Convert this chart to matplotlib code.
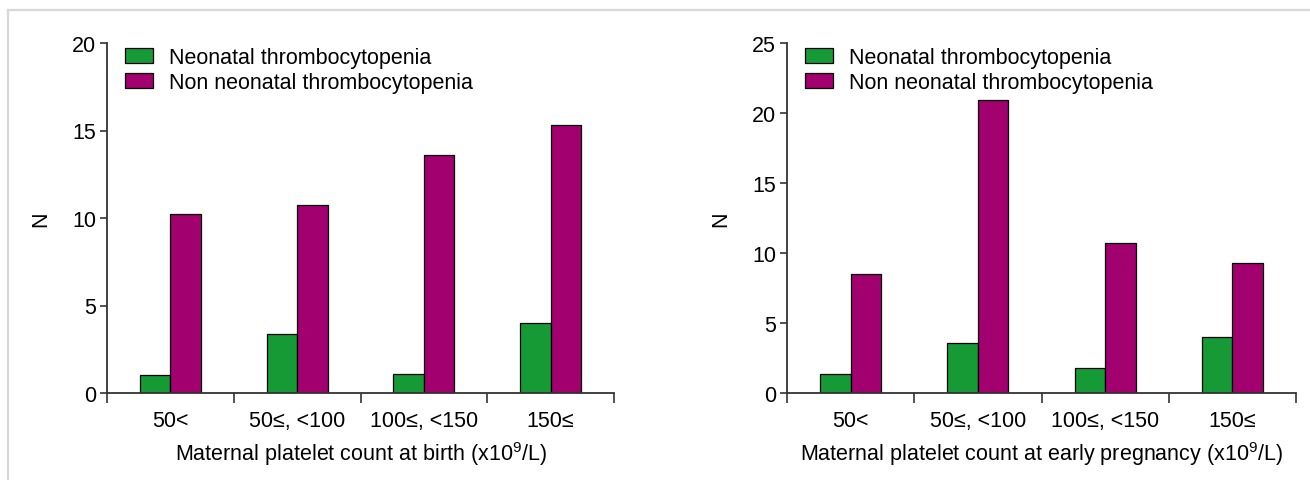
import numpy as np
import matplotlib.pyplot as plt
from matplotlib.patches import Patch
from matplotlib.lines import Line2D

plt.rcParams['font.family'] = ['Liberation Sans', 'DejaVu Sans']
plt.rcParams['mathtext.fontset'] = 'custom'
plt.rcParams['mathtext.rm'] = 'Liberation Sans'
plt.rcParams['mathtext.it'] = 'Liberation Sans:italic'

# data
categories = ['50<', '50≤, <100', '100≤, <150', '150≤']
birth_neo = [1.04, 3.37, 1.08, 4.02]
birth_non = [10.24, 10.73, 13.61, 15.3]
early_neo = [1.35, 3.6, 1.78, 4.03]
early_non = [8.48, 20.92, 10.69, 9.31]

green = '#169a35'
purple = '#a2006f'
axcol = '#333333'
fs = 15.5

fig = plt.figure(figsize=(13.1, 4.81), dpi=100)

# light gray frame round the figure (top and left only)
fig.add_artist(Line2D([8/1310, 1], [1 - 11/481, 1 - 11/481], color='#d8d8d8', lw=1.6))
fig.add_artist(Line2D([8/1310, 8/1310], [0, 1 - 11/481], color='#d8d8d8', lw=1.6))


def draw(ax, neo, non, ymax, xlabel):
    x = np.arange(len(categories))
    w = 0.24
    ax.bar(x - w/2, neo, w, color=green, edgecolor='black', linewidth=0.9,
           label='Neonatal thrombocytopenia', zorder=2)
    ax.bar(x + w/2, non, w, color=purple, edgecolor='black', linewidth=0.9,
           label='Non neonatal thrombocytopenia', zorder=2)
    ax.set_xlim(-0.5, len(categories) - 0.5)
    ax.set_ylim(0, ymax)
    ax.set_yticks(np.arange(0, ymax + 1, 5))
    ax.set_xticks(x)
    ax.set_xticklabels(categories)
    ax.set_xticks(np.arange(-0.5, len(categories)), minor=True)
    ax.tick_params(axis='x', which='major', length=0, pad=12, labelsize=fs)
    ax.tick_params(axis='x', which='minor', length=7, width=1.2, color=axcol, direction='out')
    ax.tick_params(axis='y', length=5, width=1.2, color=axcol, labelsize=fs, pad=3)
    for s in ['top', 'right']:
        ax.spines[s].set_visible(False)
    for s in ['left', 'bottom']:
        ax.spines[s].set_color(axcol)
        ax.spines[s].set_linewidth(1.3)
    ax.set_ylabel('N', fontsize=fs, labelpad=15)
    ax.set_xlabel(xlabel, fontsize=fs, labelpad=6)
    handles = [Patch(facecolor=green, edgecolor='black', linewidth=0.9),
               Patch(facecolor=purple, edgecolor='black', linewidth=0.9)]
    ax.legend(handles, ['Neonatal thrombocytopenia', 'Non neonatal thrombocytopenia'],
              loc='upper left', bbox_to_anchor=(0.018, 1.012), frameon=False,
              fontsize=fs, handlelength=1.3, handleheight=0.7,
              handletextpad=0.75, labelspacing=0.15, borderaxespad=0)


ax1 = fig.add_axes([107/1310, 1 - 394/481, 507/1310, 350/481])
draw(ax1, birth_neo, birth_non, 20, 'Maternal platelet count at birth (x10$^9$/L)')

ax2 = fig.add_axes([787/1310, 1 - 394/481, 509/1310, 350/481])
draw(ax2, early_neo, early_non, 25, 'Maternal platelet count at early pregnancy (x10$^9$/L)')

fig.savefig('out.png', dpi=100)
